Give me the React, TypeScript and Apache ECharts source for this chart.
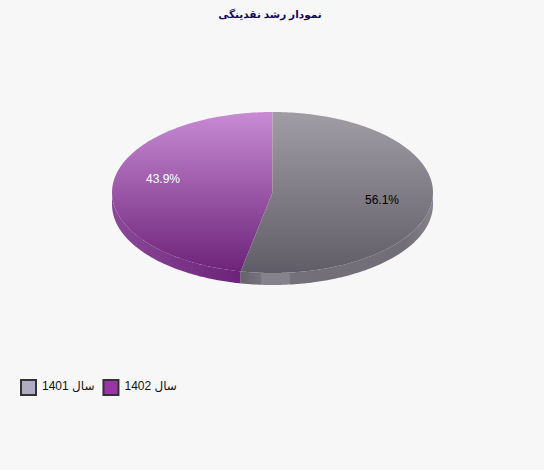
import React, { useEffect, useRef } from "react";
import * as echarts from "echarts";

const titleText = "نمودار رشد نقدینگی";
const categories = ["سال 1401", "سال 1402"];
const shares = [56.1, 43.9];

const legendColors = ["#b0acc4", "#9a35a5"];
const topColors = [
  ["#a09da5", "#605d68"],
  ["#c88bd4", "#6c2278"],
];
const labelColors = ["#000000", "#ffffff"];

const CX = 272.5;
const CY = 192.5;
const RX = 160.5;
const RY = 80.5;
const DEPTH = 12;
const FONT = "'Liberation Sans', 'DejaVu Sans', sans-serif";

// point on the rim of the ellipse along a true screen angle (clockwise from 12 o'clock)
function rim(deg: number, dy = 0): number[] {
  const a = (deg * Math.PI) / 180;
  const s = Math.sin(a);
  const c = Math.cos(a);
  const r = 1 / Math.sqrt((s / RX) ** 2 + (c / RY) ** 2);
  return [CX + r * s, CY - r * c + dy];
}

function arc(from: number, to: number, dy = 0): number[][] {
  const pts: number[][] = [];
  const n = Math.max(2, Math.ceil(Math.abs(to - from)));
  for (let i = 0; i <= n; i++) pts.push(rim(from + ((to - from) * i) / n, dy));
  return pts;
}

function sideFill(index: number) {
  if (index === 0) {
    return new echarts.graphic.LinearGradient(
      241, 0, 433, 0,
      [
        { offset: 0, color: "#66636c" },
        { offset: 0.1, color: "#75727c" },
        { offset: 0.11, color: "#85828c" },
        { offset: 0.25, color: "#85828c" },
        { offset: 0.26, color: "#73707a" },
        { offset: 0.85, color: "#716e78" },
        { offset: 1, color: "#85828c" },
      ],
      true
    );
  }
  return new echarts.graphic.LinearGradient(
    112, 0, 241, 0,
    [
      { offset: 0, color: "#8a4a98" },
      { offset: 1, color: "#6c2279" },
    ],
    true
  );
}

function sliceRenderer(index: number) {
  return (_params: any, api: any) => {
    const total = shares.reduce((a, b) => a + b, 0);
    const before = shares.slice(0, index).reduce((a, b) => a + b, 0);
    const value = api.value(0);
    const start = (before / total) * 360;
    const end = ((before + value) / total) * 360;
    const mid = (start + end) / 2;

    const children: any[] = [];
    const sFrom = Math.max(start, 90);
    const sTo = Math.min(end, 270);
    if (sTo > sFrom) {
      children.push({
        type: "polygon",
        shape: { points: [...arc(sFrom, sTo), ...arc(sTo, sFrom, DEPTH)] },
        style: { fill: sideFill(index) },
      });
    }
    children.push({
      type: "polygon",
      shape: { points: [[CX, CY], ...arc(start, end)] },
      style: {
        fill: new echarts.graphic.LinearGradient(
          0, CY - RY, 0, CY + RY,
          [
            { offset: 0, color: topColors[index][0] },
            { offset: 1, color: topColors[index][1] },
          ],
          true
        ),
      },
    });
    const a = (mid * Math.PI) / 180;
    children.push({
      type: "text",
      style: {
        x: CX + 0.695 * RX * Math.sin(a),
        y: CY - 0.68 * RY * Math.cos(a) - 3,
        text: value.toFixed(1) + "%",
        fill: labelColors[index],
        font: "12px " + FONT,
        align: "center",
        verticalAlign: "middle",
      },
    });
    return { type: "group", children };
  };
}

export default function App() {
  const ref = useRef<HTMLDivElement>(null);
  useEffect(() => {
    const chart = echarts.init(ref.current!, null, { renderer: "svg" });
    chart.setOption({
      animation: false,
      backgroundColor: "#f7f7f7",
      title: {
        text: titleText,
        left: 265,
        top: 3,
        textAlign: "center",
        textStyle: { color: "#14085c", fontSize: 10.5, fontWeight: "bold", fontFamily: FONT },
      },
      legend: {
        left: 20,
        top: 379,
        itemWidth: 15,
        itemHeight: 15,
        itemGap: 8,
        icon: "rect",
        data: categories,
        formatter: (name: string) => `{t|${name}}`,
        textStyle: {
          rich: {
            t: { color: "#111111", fontSize: 12, fontFamily: FONT, padding: [0, 0, 3, 1] },
          },
        },
        padding: 0,
      },
      series: categories.map((name, i) => ({
        type: "custom",
        name,
        coordinateSystem: "none",
        data: [[shares[i]]],
        z: 2 - i,
        renderItem: sliceRenderer(i),
        itemStyle: { color: legendColors[i], borderColor: "#333333", borderWidth: 0.8 },
      })),
    });
    return () => chart.dispose();
  }, []);
  return <div ref={ref} style={{ width: 544, height: 470, position: "absolute", left: 0, top: 0 }} />;
}
